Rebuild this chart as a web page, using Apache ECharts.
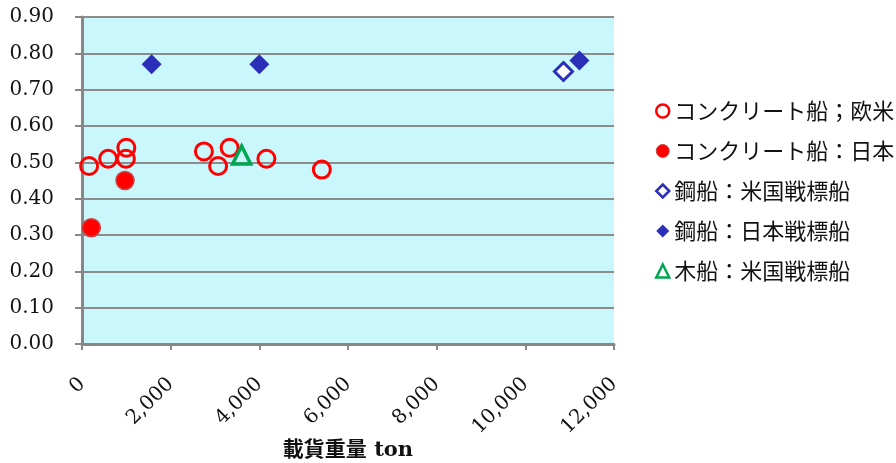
<!DOCTYPE html>
<html>
<head>
<meta charset="utf-8">
<script src="https://cdn.jsdelivr.net/npm/echarts@6/dist/echarts.min.js"></script>
<style>
  html, body { margin: 0; padding: 0; background: #ffffff; }
  #chart { width: 896px; height: 463px; }
</style>
</head>
<body>
<div id="chart"></div>
<script>
// Series names (legend order)
const seriesNames = [
  'コンクリート船；欧米',
  'コンクリート船：日本',
  '鋼船：米国戦標船',
  '鋼船：日本戦標船',
  '木船：米国戦標船'
];

// Deadweight tonnage (x) and ratio (y) per series
const concreteWestX = [160, 590, 990, 1000, 2750, 3070, 3330, 4160, 5410];
const concreteWestY = [0.49, 0.51, 0.51, 0.54, 0.53, 0.49, 0.54, 0.51, 0.48];

const concreteJapanX = [210, 970];
const concreteJapanY = [0.32, 0.45];

const steelUSX = [10860];
const steelUSY = [0.75];

const steelJapanX = [1570, 4000, 11220];
const steelJapanY = [0.77, 0.77, 0.78];

const woodUSX = [3600];
const woodUSY = [0.52];

// Axis settings
const xMin = 0, xMax = 12000, xStep = 2000;
const yMin = 0, yMax = 0.9, yStep = 0.1;
const xAxisTitle = '載貨重量 ton';

function pairs(xs, ys) {
  return xs.map((x, i) => [x, ys[i]]);
}

const axisGray = '#878787';
const serif = '"DejaVu Serif", "Noto Sans CJK JP", serif';

// Marker styles per series
const styles = [
  { symbol: 'circle', size: 17, item: { color: 'rgba(0,0,0,0)', borderColor: '#FF0000', borderWidth: 3, opacity: 1 } },
  { symbol: 'circle', size: 18, item: { color: '#FF0000', borderColor: '#C94545', borderWidth: 1.5, opacity: 1 } },
  { symbol: 'diamond', size: 18, item: { color: '#FFFFFF', borderColor: '#2B2FB8', borderWidth: 3, opacity: 1 } },
  { symbol: 'diamond', size: 20, item: { color: '#2B2FB8', opacity: 1 } },
  { symbol: 'triangle', size: 18, item: { color: 'rgba(0,0,0,0)', borderColor: '#00A651', borderWidth: 3.5, opacity: 1 } }
];

// Legend icons are drawn smaller, with slightly lighter strokes
const legendIconStyles = [
  { color: '#FFFFFF', borderColor: '#FF0000', borderWidth: 2.5 },
  { color: '#FF0000', borderColor: '#C94545', borderWidth: 1 },
  { color: '#FFFFFF', borderColor: '#2B2FB8', borderWidth: 2.5 },
  { color: '#2B2FB8', borderWidth: 0 },
  { color: '#FFFFFF', borderColor: '#00A651', borderWidth: 2.5 }
];

const seriesData = [
  pairs(concreteWestX, concreteWestY),
  pairs(concreteJapanX, concreteJapanY),
  pairs(steelUSX, steelUSY),
  pairs(steelJapanX, steelJapanY),
  pairs(woodUSX, woodUSY)
];

const chart = echarts.init(document.getElementById('chart'), null, { renderer: 'canvas' });

chart.setOption({
  animation: false,
  backgroundColor: '#ffffff',
  grid: {
    left: 82, right: 282, top: 17, bottom: 119,
    outerBoundsMode: 'none',
    containLabel: false,
    show: true,
    backgroundColor: '#C9F7FB',
    borderWidth: 0
  },
  legend: {
    orient: 'vertical',
    left: 650,
    top: 95,
    itemWidth: 13,
    itemHeight: 13,
    itemGap: 18,
    textStyle: {
      fontFamily: '"Noto Sans CJK JP", sans-serif',
      fontSize: 22,
      color: '#111111'
    },
    data: seriesNames.map((name, i) => ({ name, itemStyle: legendIconStyles[i] }))
  },
  xAxis: {
    type: 'value',
    min: xMin, max: xMax, interval: xStep,
    name: xAxisTitle,
    nameLocation: 'middle',
    nameGap: 96,
    nameMoveOverlap: false,
    nameTextStyle: {
      fontFamily: serif,
      fontWeight: 'bold',
      fontSize: 21,
      color: '#111111'
    },
    axisLine: { show: true, onZero: false, lineStyle: { color: axisGray, width: 3 } },
    axisTick: { show: true, length: 6, lineStyle: { color: axisGray, width: 2 } },
    splitLine: { show: false },
    axisLabel: {
      rotate: 45,
      margin: 37,
      fontFamily: serif,
      fontSize: 20,
      color: '#111111',
      formatter: v => v.toLocaleString('en-US')
    }
  },
  yAxis: {
    type: 'value',
    min: yMin, max: yMax, interval: yStep,
    axisLine: { show: true, onZero: false, lineStyle: { color: axisGray, width: 3 } },
    axisTick: { show: true, length: 7, lineStyle: { color: axisGray, width: 2 } },
    splitLine: { show: true, lineStyle: { color: '#8c8c8c', width: 2 } },
    axisLabel: {
      margin: 28,
      fontFamily: serif,
      fontSize: 20,
      color: '#111111',
      formatter: v => v.toFixed(2)
    }
  },
  series: seriesNames.map((name, i) => ({
    name,
    type: 'scatter',
    symbol: styles[i].symbol,
    symbolSize: styles[i].size,
    itemStyle: styles[i].item,
    data: seriesData[i]
  }))
});
</script>
</body>
</html>
